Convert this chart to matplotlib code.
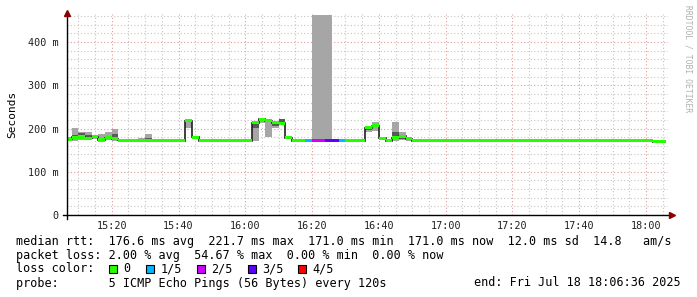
import numpy as np
import matplotlib
matplotlib.use('Agg')
import matplotlib.pyplot as plt
from matplotlib.patches import Rectangle
from matplotlib.ticker import MultipleLocator, FuncFormatter

plt.rcParams['font.family'] = ['DejaVu Sans Mono']

# step start times, minutes after 15:00 (2 min steps, 15:06 .. 18:04)
step_min = list(range(6, 186, 2))

# median rtt per step (ms)
medians = [
    175, 180, 180, 178, 181, 174, 179, 176, 173, 172,
    172, 173, 173, 172, 173, 172, 172, 172, 218, 180,
    172, 172, 172, 172, 172, 172, 172, 172, 213, 222,
    218, 213, 212, 179, 172, 172, 172, 172, 172, 172,
    172, 172, 172, 172, 172, 202, 206, 177, 172, 179,
    182, 176, 172, 172, 172, 172, 172, 172, 172, 172,
    172, 172, 172, 172, 172, 172, 172, 172, 172, 172,
    172, 172, 172, 172, 172, 172, 172, 172, 172, 172,
    172, 172, 172, 172, 172, 172, 172, 172, 170, 170,
]

# smoke: outer range (light) per step that has visible spread
smoke_min = [6, 8, 10, 12, 14, 16, 18, 20, 22, 28, 30, 34, 40, 42, 44,
             62, 64, 66, 68, 70, 72, 80, 82, 84, 96, 98, 104, 106, 108]
smoke_lo = [172, 172, 174, 175, 176, 170, 173, 172, 171, 172, 172, 172, 171, 201, 176,
            172, 212, 180, 201, 208, 176, 172, 172, 172, 192, 195, 172, 173, 172]
smoke_hi = [180, 202, 192, 192, 184, 187, 193, 200, 175, 177, 187, 175, 174, 218, 181,
            216, 223, 220, 217, 223, 181, 462, 462, 462, 207, 215, 216, 193, 178]

# smoke: inner range (dark)
dark_min = [6, 8, 10, 12, 14, 16, 18, 20, 30, 62, 68, 70, 96, 104, 106]
dark_lo = [174, 176, 184, 180, 178, 172, 175, 176, 174, 201, 205, 212, 196, 176, 176]
dark_hi = [178, 184, 190, 186, 182, 176, 180, 188, 178, 212, 213, 222, 204, 192, 184]

# packet loss (lost pings of 5) where not 0
loss_min = [78, 80, 82, 84, 86, 88]
loss_val = [1, 2, 2, 3, 3, 1]

loss_labels = ['0', '1/5', '2/5', '3/5', '4/5']
loss_colors = ['#26ff00', '#00b8ff', '#d000ff', '#5e00ff', '#ff0000']

W, H = 697, 297
fig = plt.figure(figsize=(W / 100, H / 100), dpi=100)
fig.patch.set_facecolor('white')
ax = fig.add_axes([67 / W, 1 - 215 / H, 601 / W, 201 / H])
ax.set_xlim(6.6, 186.6)
ax.set_ylim(0, 465)

# grid
ax.xaxis.set_major_locator(MultipleLocator(20))
ax.xaxis.set_minor_locator(MultipleLocator(5))
ax.yaxis.set_major_locator(MultipleLocator(100))
ax.yaxis.set_minor_locator(MultipleLocator(20))
ax.grid(which='minor', color='#c4c4c4', linestyle=(0, (1, 2)), linewidth=0.8)
ax.grid(which='major', color='#e29a9a', linestyle=(0, (1, 2)), linewidth=0.8)
ax.set_axisbelow(True)

# smoke
ax.bar(smoke_min, np.array(smoke_hi) - np.array(smoke_lo), bottom=smoke_lo,
       width=2, align='edge', color='#a6a6a6', linewidth=0, zorder=2)
ax.bar(dark_min, np.array(dark_hi) - np.array(dark_lo), bottom=dark_lo,
       width=2, align='edge', color='#585858', linewidth=0, zorder=3)

# median line + loss coloured band
edges = step_min + [step_min[-1] + 2]
ax.stairs(medians, edges, baseline=None, color='#202020', linewidth=1.2, zorder=4)
loss = dict(zip(loss_min, loss_val))
cols = [loss_colors[loss.get(m, 0)] for m in step_min]
ax.bar(step_min, 7, bottom=np.array(medians) - 3.5, width=2, align='edge',
       color=cols, linewidth=0, zorder=5)

for s in ax.spines.values():
    s.set_visible(False)
ax.tick_params(which='both', length=0, labelsize=7.3, colors='#202020')
ax.tick_params(axis='x', pad=4)
ax.tick_params(axis='y', pad=6)
ax.xaxis.set_major_formatter(FuncFormatter(
    lambda v, p: f'{15 + int(v) // 60}:{int(v) % 60:02d}'))
ax.yaxis.set_major_formatter(FuncFormatter(
    lambda v, p: '0' if v == 0 else f'{int(v)} m'))
ax.set_ylabel('Seconds', fontsize=8, labelpad=8)

# axes lines with arrows
ax.plot([-0.007, 1.005], [0, 0], transform=ax.transAxes, color='black',
        linewidth=1, clip_on=False, zorder=6)
ax.plot([0, 0], [-0.02, 1.0], transform=ax.transAxes, color='black',
        linewidth=1, clip_on=False, zorder=6)
ax.plot([1.007], [0], transform=ax.transAxes, marker='>', color='#880000',
        markersize=4, clip_on=False, zorder=7)
ax.plot([0], [1.005], transform=ax.transAxes, marker='^', color='#880000',
        markersize=4, clip_on=False, zorder=7)


def px(x, y):
    return x / W, 1 - y / H


fs = 8.5
fig.text(*px(16, 241), 'median rtt:  176.6 ms avg  221.7 ms max  171.0 ms min  '
         '171.0 ms now  12.0 ms sd  14.8   am/s', fontsize=fs, va='center')
fig.text(*px(16, 255), 'packet loss: 2.00 % avg  54.67 % max  0.00 % min  0.00 % now',
         fontsize=fs, va='center')
fig.text(*px(16, 269), 'loss color:', fontsize=fs, va='center')
box_x = [108.5, 146, 197, 247.5, 298]
for bx, lab, c in zip(box_x, loss_labels, loss_colors):
    fig.patches.append(Rectangle(px(bx, 273), 8 / W, 8 / H, transform=fig.transFigure,
                                 facecolor=c, edgecolor='black', linewidth=0.8))
    fig.text(*px(bx + 14.5, 269), lab, fontsize=fs, va='center')
fig.text(*px(16, 283), 'probe:       5 ICMP Echo Pings (56 Bytes) every 120s',
         fontsize=fs, va='center')
fig.text(*px(681, 283), 'end: Fri Jul 18 18:06:36 2025', fontsize=fs,
         va='center', ha='right')

fig.text(*px(688, 5), 'RRDTOOL / TOBI OETIKER', fontsize=5.8, color='#b0b0b0',
         rotation=270, va='top', ha='center')

fig.savefig('out.png', dpi=100)
